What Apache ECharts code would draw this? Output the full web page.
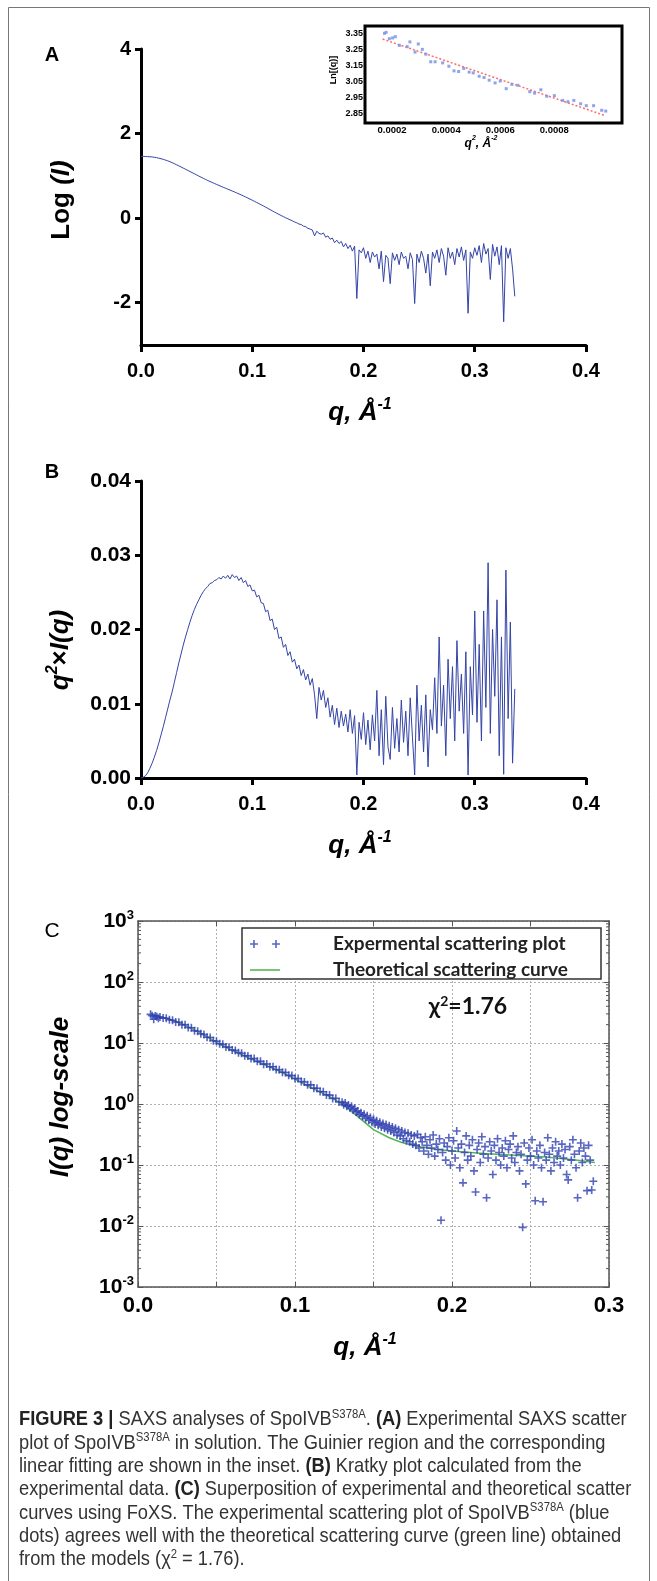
<!DOCTYPE html>
<html><head><meta charset="utf-8">
<script src="https://cdn.jsdelivr.net/npm/echarts@6/dist/echarts.min.js"></script>
<style>html,body{margin:0;padding:0;background:#fff;}#c{width:657px;height:1581px;}</style>
</head><body><div id="c"></div>
<script>
// ---------- DATA ----------
const qGrid = [0,0.002,0.004,0.006,0.008,0.01,0.012,0.014,0.016,0.018,
0.02,0.022,0.024,0.026,0.028,0.03,0.032,0.034,0.036,0.038,
0.04,0.042,0.044,0.046,0.048,0.05,0.052,0.054,0.056,0.058,
0.06,0.062,0.064,0.066,0.068,0.07,0.072,0.074,0.076,0.078,
0.08,0.082,0.084,0.086,0.088,0.09,0.092,0.094,0.096,0.098,
0.1,0.102,0.104,0.106,0.108,0.11,0.112,0.114,0.116,0.118,
0.12,0.122,0.124,0.126,0.128,0.13,0.132,0.134,0.136,0.138,
0.14,0.142,0.144,0.146,0.148,0.15,0.152,0.154,0.156,0.158,
0.16,0.162,0.164,0.166,0.168,0.17,0.172,0.174,0.176,0.178,
0.18,0.182,0.184,0.186,0.188,0.19,0.192,0.194,0.196,0.198,
0.2,0.202,0.204,0.206,0.208,0.21,0.212,0.214,0.216,0.218,
0.22,0.222,0.224,0.226,0.228,0.23,0.232,0.234,0.236,0.238,
0.24,0.242,0.244,0.246,0.248,0.25,0.252,0.254,0.256,0.258,
0.26,0.262,0.264,0.266,0.268,0.27,0.272,0.274,0.276,0.278,
0.28,0.282,0.284,0.286,0.288,0.29,0.292,0.294,0.296,0.298,
0.3,0.302,0.304,0.306,0.308,0.31,0.312,0.314,0.316,0.318,
0.32,0.322,0.324,0.326,0.328,0.33,0.332,0.334,0.336];

// Panel A: Log(I)
const logIntensity = [1.46,1.46,1.458,1.455,1.452,1.447,1.44,1.43,1.418,1.405,
1.39,1.373,1.355,1.335,1.312,1.288,1.262,1.236,1.21,1.183,
1.156,1.13,1.103,1.076,1.05,1.022,0.995,0.968,0.942,0.917,
0.89,0.866,0.843,0.82,0.797,0.774,0.751,0.729,0.707,0.686,
0.664,0.642,0.62,0.597,0.574,0.55,0.526,0.501,0.476,0.45,
0.424,0.398,0.371,0.344,0.316,0.288,0.26,0.231,0.202,0.173,
0.144,0.116,0.089,0.062,0.036,0.01,-0.014,-0.04,-0.062,-0.09,
-0.11,-0.14,-0.15,-0.19,-0.2,-0.24,-0.26,-0.28,-0.42,-0.31,
-0.36,-0.38,-0.35,-0.45,-0.42,-0.5,-0.47,-0.58,-0.52,-0.6,
-0.55,-0.68,-0.6,-0.72,-0.64,-0.78,-0.66,-1.9,-0.75,-0.82,
-0.7,-0.95,-0.78,-1.05,-0.8,-0.92,-0.85,-1.2,-0.78,-1.5,
-0.88,-0.95,-1.55,-0.82,-1.0,-0.85,-1.1,-0.8,-0.95,-0.9,
-1.2,-0.82,-0.98,-2.02,-0.85,-1.05,-0.78,-0.95,-1.3,-0.85,
-1.6,-0.8,-0.95,-0.75,-1.05,-0.72,-0.9,-1.35,-0.7,-0.95,
-0.8,-1.1,-0.72,-0.92,-0.68,-1.0,-0.75,-2.25,-0.8,-0.95,
-0.7,-0.88,-0.65,-1.05,-0.6,-0.85,-0.72,-1.45,-0.62,-0.9,
-0.68,-1.1,-0.65,-2.45,-0.7,-0.95,-0.72,-1.2,-1.85];

// Panel B: Kratky q^2 x I(q)
const kratkyValues = [0,0.0001,0.0003,0.0007,0.0013,0.002,0.0028,0.0037,0.0047,0.0058,
0.0069,0.0081,0.0093,0.0105,0.0116,0.0129,0.0142,0.0155,0.0167,0.0179,
0.019,0.02,0.021,0.0219,0.0227,0.0234,0.024,0.0246,0.0251,0.0255,
0.0258,0.0262,0.0263,0.0266,0.0267,0.027,0.0268,0.0272,0.0269,0.0273,
0.0268,0.0274,0.027,0.0272,0.0266,0.027,0.0263,0.0266,0.0258,0.026,
0.0252,0.0253,0.0244,0.0246,0.0236,0.0235,0.0224,0.0226,0.0212,0.0214,
0.02,0.0203,0.0188,0.019,0.0176,0.018,0.0165,0.017,0.0156,0.016,
0.0147,0.0152,0.0138,0.0146,0.0132,0.014,0.0125,0.0134,0.0112,0.008,
0.0122,0.0105,0.0118,0.0095,0.0108,0.0082,0.0098,0.0072,0.0094,0.0068,
0.009,0.007,0.0086,0.0062,0.0092,0.006,0.0084,0.0004,0.0075,0.0052,
0.0088,0.0045,0.0078,0.0038,0.0085,0.005,0.0118,0.003,0.0092,0.0018,
0.011,0.0042,0.0025,0.0095,0.004,0.008,0.0035,0.0105,0.0048,0.009,
0.003,0.0108,0.0055,0.0004,0.0125,0.005,0.0098,0.0035,0.0112,0.0015,
0.0092,0.0065,0.0135,0.006,0.019,0.007,0.0125,0.003,0.016,0.008,
0.015,0.005,0.0185,0.009,0.014,0.006,0.017,0.0004,0.015,0.0085,
0.0225,0.0075,0.018,0.005,0.0225,0.0095,0.029,0.006,0.02,0.011,
0.024,0.003,0.019,0.0005,0.028,0.008,0.021,0.002,0.012];

// Inset: Guinier region
const guinierQ2 = [0.000172,0.000178,0.00019,0.000202,0.000212,0.000227,0.000256,0.000266,0.000285,0.000297,
0.000312,0.000325,0.000343,0.000359,0.000387,0.00041,0.000429,0.000446,0.000465,0.000485,
0.0005,0.000522,0.00054,0.000559,0.000581,0.0006,0.000622,0.000643,0.000665,0.000709,
0.000727,0.00075,0.000772,0.0008,0.000831,0.00085,0.000872,0.000897,0.000918,0.000945,0.000975,0.00099];
const guinierLnI = [3.354,3.36,3.32,3.325,3.333,3.278,3.27,3.30,3.236,3.287,
3.253,3.223,3.175,3.175,3.168,3.147,3.118,3.114,3.133,3.11,
3.105,3.084,3.076,3.059,3.042,3.054,3.006,3.033,3.027,2.987,
2.978,2.999,2.958,2.962,2.932,2.924,2.932,2.911,2.899,2.899,2.87,2.865];
const guinierFitQ2 = [0.000165, 0.00099];
const guinierFitLnI = [3.318, 2.835];

// Panel C: experimental scatter (q, I)
const foxsExpQ = [0.008,0.009,0.01,0.011,0.012,0.013,0.014,
0.016,0.018,0.02,0.022,0.024,0.026,0.028,0.03,0.032,0.034,
0.036,0.038,0.04,0.042,0.044,0.046,0.048,0.05,0.052,0.054,
0.056,0.058,0.06,0.062,0.064,0.066,0.068,0.07,0.072,0.074,
0.076,0.078,0.08,0.082,0.084,0.086,0.088,0.09,0.092,0.094,
0.096,0.098,0.1,0.102,0.104,0.106,0.108,0.11,0.112,0.114,
0.116,0.118,0.12,0.122,0.124,0.126,0.128,0.13,
0.131,0.132,0.133,0.134,0.135,0.136,0.137,0.138,0.139,0.14,
0.141,0.142,0.143,0.144,0.145,0.146,0.147,0.148,0.149,0.15,
0.151,0.152,0.153,0.154,0.155,0.156,0.157,0.158,0.159,0.16,
0.161,0.162,0.163,0.164,0.165,0.166,0.167,0.168,0.169,0.17,
0.171,0.172,0.173,0.174,0.175,0.176,0.177,0.178,0.179,0.18,
0.181,0.182,0.183,0.184,0.185,0.186,0.187,0.188,0.189,0.19,
0.191,0.192,0.193,0.194,0.195,0.196,0.197,0.198,0.199,0.2,
0.201,0.202,0.203,0.204,0.205,0.206,0.207,0.208,0.209,0.21,
0.211,0.212,0.213,0.214,0.215,0.216,0.217,0.218,0.219,0.22,
0.221,0.222,0.223,0.224,0.225,0.226,0.227,0.228,0.229,0.23,
0.231,0.232,0.233,0.234,0.235,0.236,0.237,0.238,0.239,0.24,
0.241,0.242,0.243,0.244,0.245,0.246,0.247,0.248,0.249,0.25,
0.251,0.252,0.253,0.254,0.255,0.256,0.257,0.258,0.259,0.26,
0.261,0.262,0.263,0.264,0.265,0.266,0.267,0.268,0.269,0.27,
0.271,0.272,0.273,0.274,0.275,0.276,0.277,0.278,0.279,0.28,
0.281,0.282,0.283,0.284,0.285,0.286,0.287,0.288,0.289,0.29];
const foxsExpI = [29.5,28.0,24.5,27.8,27.0,25.5,26.6,
25.8,25.4,24.0,23.6,22.1,21.9,20.0,19.9,18.0,17.8,
15.9,15.6,14.2,13.8,12.4,12.3,10.9,10.7,9.7,9.5,
8.6,8.5,7.7,7.55,6.95,6.8,6.2,6.15,5.55,5.55,
5.0,5.0,4.5,4.52,4.07,4.08,3.67,3.64,3.31,3.28,
2.95,2.92,2.62,2.61,2.34,2.30,2.06,2.06,1.82,1.81,
1.60,1.59,1.41,1.40,1.23,1.24,1.08,1.07,
0.97,1.04,0.92,0.96,0.86,0.92,0.80,0.85,0.74,0.77,
0.67,0.72,0.63,0.68,0.58,0.64,0.54,0.60,0.50,0.56,
0.47,0.53,0.45,0.50,0.42,0.48,0.40,0.46,0.38,0.44,
0.36,0.42,0.34,0.40,0.31,0.38,0.30,0.36,0.27,0.34,
0.25,0.33,0.24,0.31,0.22,0.30,0.21,0.32,0.19,0.28,
0.24,0.17,0.29,0.21,0.15,0.26,0.19,0.31,0.14,0.22,
0.18,0.27,0.0124,0.16,0.23,0.12,0.20,0.28,0.10,0.17,
0.25,0.13,0.36,0.19,0.09,0.22,0.051,0.16,0.30,0.12,
0.21,0.14,0.26,0.08,0.036,0.18,0.23,0.11,0.29,0.15,
0.20,0.029,0.13,0.24,0.17,0.07,0.21,0.12,0.27,0.16,
0.10,0.19,0.14,0.25,0.09,0.18,0.22,0.13,0.30,0.11,
0.16,0.20,0.08,0.15,0.0095,0.23,0.049,0.12,0.19,0.14,
0.26,0.10,0.026,0.17,0.13,0.21,0.09,0.025,0.16,0.12,
0.28,0.15,0.08,0.19,0.11,0.24,0.14,0.17,0.10,0.22,
0.13,0.18,0.07,0.057,0.20,0.12,0.26,0.15,0.09,0.029,
0.17,0.23,0.11,0.19,0.14,0.038,0.21,0.12,0.039,0.054];

// Panel C: theoretical FoXS curve
const foxsTheoQ = [0.0083,0.02,0.03,0.04,0.05,0.06,0.07,0.08,0.09,0.10,0.11,0.12,0.13,0.14,0.15,0.16,0.168,0.175,0.18,0.19,0.20,0.22,0.24,0.26,0.28,0.291];
const foxsTheoI = [29.9,24.5,19.5,14.5,10.2,7.6,5.75,4.47,3.47,2.55,1.86,1.41,1.0,0.62,0.38,0.28,0.234,0.21,0.20,0.182,0.17,0.155,0.145,0.135,0.12,0.11];

// Tick labels
const panelAYTicks = [-2, 0, 2, 4];
const insetXTicks = [0.0002, 0.0004, 0.0006, 0.0008];
const insetYTicks = [2.85, 2.95, 3.05, 3.15, 3.25, 3.35];
const panelCXLabels = [0, 0.1, 0.2, 0.3];
const logMinorMultipliers = [2, 3, 4, 5, 6, 7, 8, 9];
const seriesNames = ['Expermental scattering plot', 'Theoretical scattering curve'];

// ---------- CHART ----------
const pairs = (xs, ys) => xs.map((x, i) => [x, ys[i]]);
const FONT = "'Liberation Sans', Arial, Helvetica, sans-serif";
const BLUE = '#3444a6';
const chart = echarts.init(document.getElementById('c'), null, {renderer: 'canvas', width: 657, height: 1581});

const blackAxis = {show: true, onZero: false, lineStyle: {color: '#000', width: 3}};
const blackTick = (len) => ({show: true, length: len, lineStyle: {color: '#000', width: 3}});
const lbl = (size, extra) => Object.assign({fontFamily: FONT, fontWeight: 'bold', fontSize: size, color: '#000'}, extra || {});
const grayAxis = {show: true, onZero: false, lineStyle: {color: '#555', width: 1.5}};
const grayTick = {show: true, inside: true, length: 5, lineStyle: {color: '#555', width: 1}};
const dotted = {show: true, lineStyle: {type: [2, 2], color: '#b0b0b0', width: 1}};

const cMinor = [];
for (let e = -3; e < 3; e++) logMinorMultipliers.forEach(m => cMinor.push([0, m * Math.pow(10, e)]));

const titleRich = (size) => ({
  b: {fontFamily: FONT, fontWeight: 'bold', fontSize: size, lineHeight: size + 6, fill: '#000', color: '#000'},
  bi: {fontFamily: FONT, fontWeight: 'bold', fontStyle: 'italic', fontSize: size, lineHeight: size + 6, fill: '#000', color: '#000'},
  sup: {fontFamily: FONT, fontWeight: 'bold', fontStyle: 'italic', fontSize: Math.round(size * 0.6), lineHeight: Math.round(size * 0.6), verticalAlign: 'top', fill: '#000', color: '#000'}
});
function titleText(x, y, text, size, rotate) {
  return {type: 'text', x: x, y: y, rotation: rotate ? Math.PI / 2 : 0, z: 10,
    style: {text: text, rich: titleRich(size), align: 'center', verticalAlign: 'middle', textAlign: 'center', textVerticalAlign: 'middle'}};
}

const capRich = {
  b: {fontFamily: FONT, fontWeight: 'bold', fontSize: 21, lineHeight: 23.3, fill: '#222', color: '#222'},
  sup: {fontFamily: FONT, fontSize: 13, lineHeight: 13, verticalAlign: 'top', fill: '#333', color: '#333'}
};
const captionLines = [
  '{b|FIGURE 3 |} SAXS analyses of SpoIVB{sup|S378A}. {b|(A)} Experimental SAXS scatter',
  'plot of SpoIVB{sup|S378A} in solution. The Guinier region and the corresponding',
  'linear fitting are shown in the inset. {b|(B)} Kratky plot calculated from the',
  'experimental data. {b|(C)} Superposition of experimental and theoretical scatter',
  'curves using FoXS. The experimental scattering plot of SpoIVB{sup|S378A} (blue',
  'dots) agrees well with the theoretical scattering curve (green line) obtained',
  'from the models (\u03c7{sup|2} = 1.76).'
];

const option = {
  animation: false,
  backgroundColor: '#fff',
  grid: [
    {left: 141, top: 49, width: 445, height: 296, outerBoundsMode: 'none'},
    {left: 365, top: 26, width: 257, height: 97, show: true, borderColor: '#000', borderWidth: 3, backgroundColor: '#fff', outerBoundsMode: 'none'},
    {left: 141, top: 481, width: 445, height: 297, outerBoundsMode: 'none'},
    {left: 138, top: 921, width: 471, height: 366, outerBoundsMode: 'none'}
  ],
  xAxis: [
    {gridIndex: 0, type: 'value', min: 0, max: 0.4, interval: 0.1, axisLine: blackAxis, axisTick: blackTick(7),
     axisLabel: lbl(20, {margin: 16, formatter: v => v.toFixed(1)}), splitLine: {show: false}},
    {gridIndex: 1, type: 'value', min: 0.0001, max: 0.00105, axisLine: {show: false}, axisTick: {show: false},
     axisLabel: lbl(9.5, {margin: 2, customValues: insetXTicks, formatter: v => v.toFixed(4)}), splitLine: {show: false}},
    {gridIndex: 2, type: 'value', min: 0, max: 0.4, interval: 0.1, axisLine: blackAxis, axisTick: blackTick(7),
     axisLabel: lbl(20, {margin: 16, formatter: v => v.toFixed(1)}), splitLine: {show: false}},
    {gridIndex: 3, type: 'value', min: 0, max: 0.3, interval: 0.05, position: 'bottom', axisLine: grayAxis, axisTick: grayTick,
     axisLabel: lbl(22, {margin: 8, customValues: panelCXLabels, formatter: v => v.toFixed(1)}), splitLine: dotted},
    {gridIndex: 3, type: 'value', min: 0, max: 0.3, interval: 0.05, position: 'top', axisLine: grayAxis, axisTick: grayTick,
     axisLabel: {show: false}, splitLine: {show: false}}
  ],
  yAxis: [
    {gridIndex: 0, type: 'value', min: -3, max: 4, axisLine: blackAxis,
     axisTick: Object.assign(blackTick(6), {customValues: panelAYTicks}),
     axisLabel: lbl(20, {margin: 10, customValues: panelAYTicks, formatter: v => String(v)}), splitLine: {show: false}},
    {gridIndex: 1, type: 'value', min: 2.79, max: 3.4, axisLine: {show: false}, axisTick: {show: false},
     axisLabel: lbl(9, {margin: 2, customValues: insetYTicks, formatter: v => v.toFixed(2)}), splitLine: {show: false}},
    {gridIndex: 2, type: 'value', min: 0, max: 0.04, interval: 0.01, axisLine: blackAxis, axisTick: blackTick(6),
     axisLabel: lbl(21, {margin: 10, formatter: v => v.toFixed(2)}), splitLine: {show: false}},
    {gridIndex: 3, type: 'log', logBase: 10, min: 0.001, max: 1000, position: 'left', axisLine: grayAxis, axisTick: grayTick,
     axisLabel: {margin: 4, formatter: v => '{b|10}{s|' + Math.round(Math.log10(v)) + '}',
       rich: {b: {fontFamily: FONT, fontWeight: 'bold', fontSize: 21, color: '#000', lineHeight: 24},
              s: {fontFamily: FONT, fontWeight: 'bold', fontSize: 13, color: '#000', lineHeight: 13, verticalAlign: 'top'}}},
     splitLine: dotted},
    {gridIndex: 3, type: 'log', logBase: 10, min: 0.001, max: 1000, position: 'right', axisLine: grayAxis, axisTick: grayTick,
     axisLabel: {show: false}, splitLine: {show: false}}
  ],
  legend: {
    left: 245, top: 929, orient: 'vertical', itemGap: 6, itemWidth: 30, itemHeight: 8, selectedMode: false, z: 6,
    data: [
      {name: seriesNames[0], icon: 'path://M3.2,0H4.8V3.2H8V4.8H4.8V8H3.2V4.8H0V3.2H3.2Z M25.2,0H26.8V3.2H30V4.8H26.8V8H25.2V4.8H22V3.2H25.2Z'},
      {name: seriesNames[1], icon: 'path://M0,0H30V1.6H0Z'}
    ],
    textStyle: {fontFamily: 'Lato, ' + FONT, fontWeight: 'bold', fontSize: 19, color: '#222', lineHeight: 20, padding: [0, 0, 0, 48]}
  },
  series: [
    {type: 'line', xAxisIndex: 0, yAxisIndex: 0, data: pairs(qGrid, logIntensity), showSymbol: false,
     lineStyle: {color: BLUE, width: 1}, itemStyle: {color: BLUE}, z: 2},
    {type: 'line', xAxisIndex: 1, yAxisIndex: 1, data: pairs(guinierFitQ2, guinierFitLnI), showSymbol: false,
     lineStyle: {color: '#ff6b6b', width: 1.5, type: [2, 2]}, z: 2},
    {type: 'scatter', xAxisIndex: 1, yAxisIndex: 1, data: pairs(guinierQ2, guinierLnI), symbol: 'rect', symbolSize: 3,
     itemStyle: {color: '#7a94e8', opacity: 0.85}, z: 3},
    {type: 'line', xAxisIndex: 2, yAxisIndex: 2, data: pairs(qGrid, kratkyValues), showSymbol: false,
     lineStyle: {color: BLUE, width: 1}, itemStyle: {color: BLUE}, z: 2},
    {name: seriesNames[1], type: 'line', xAxisIndex: 3, yAxisIndex: 3, data: pairs(foxsTheoQ, foxsTheoI), showSymbol: false,
     color: '#55b555', lineStyle: {color: '#55b555', width: 1.5}, itemStyle: {color: '#55b555'}, z: 2},
    {name: seriesNames[0], type: 'scatter', xAxisIndex: 3, yAxisIndex: 3, data: pairs(foxsExpQ, foxsExpI),
     symbol: 'path://M4,0H6V4H10V6H6V10H4V6H0V4H4Z', symbolSize: 8, itemStyle: {color: '#3040b0'}, z: 3},
    {type: 'custom', xAxisIndex: 3, yAxisIndex: 3, data: cMinor, silent: true, z: 4,
     renderItem: (params, api) => {
       const v = api.value(1);
       const l = api.coord([0, v]); const r = api.coord([0.3, v]);
       return {type: 'group', children: [
         {type: 'line', shape: {x1: l[0], y1: l[1], x2: l[0] + 3, y2: l[1]}, style: {stroke: '#555', lineWidth: 1}},
         {type: 'line', shape: {x1: r[0] - 3, y1: r[1], x2: r[0], y2: r[1]}, style: {stroke: '#555', lineWidth: 1}}
       ]};
     }}
  ],
  graphic: [
    {type: 'rect', shape: {x: 8.5, y: 7.5, width: 641, height: 1600}, style: {fill: 'none', stroke: '#777', lineWidth: 1}, z: 0, silent: true},
    {type: 'text', x: 52, y: 55, style: {text: 'A', fontFamily: FONT, fontWeight: 'bold', fontSize: 20, fill: '#000', align: 'center', verticalAlign: 'middle', textAlign: 'center', textVerticalAlign: 'middle'}},
    {type: 'text', x: 52, y: 472, style: {text: 'B', fontFamily: FONT, fontWeight: 'bold', fontSize: 20, fill: '#000', align: 'center', verticalAlign: 'middle', textAlign: 'center', textVerticalAlign: 'middle'}},
    {type: 'text', x: 52, y: 931, style: {text: 'C', fontFamily: FONT, fontSize: 21, fill: '#000', align: 'center', verticalAlign: 'middle', textAlign: 'center', textVerticalAlign: 'middle'}},
    titleText(62, 200, '{b|Log }{bi|(I)}', 26, true),
    titleText(360, 413, '{bi|q, \u00c5}{sup|-1}', 26, false),
    titleText(61, 650, '{bi|q}{sup|2}{b|\u00d7}{bi|I(q)}', 26, true),
    titleText(360, 846, '{bi|q, \u00c5}{sup|-1}', 26, false),
    titleText(61, 1097, '{bi|I(q) log-scale}', 26, true),
    titleText(365, 1348, '{bi|q, \u00c5}{sup|-1}', 26, false),
    titleText(334, 70, '{b|Ln[(q)]}', 9, true),
    titleText(481, 144, '{bi|q}{sup|2}{bi|, \u00c5}{sup|-2}', 12, false),
    {type: 'rect', shape: {x: 242, y: 928, width: 359, height: 51}, style: {fill: '#fff', stroke: '#333', lineWidth: 1.5}, z: 3, silent: true},
    {type: 'text', x: 468, y: 1007, z: 5, style: {text: '{t|\u03c7}{s|2}{t|=1.76}', align: 'center', verticalAlign: 'middle', textAlign: 'center', textVerticalAlign: 'middle',
      rich: {t: {fontFamily: 'Lato, ' + FONT, fontWeight: 'bold', fontSize: 23, lineHeight: 26, fill: '#111', color: '#111'},
             s: {fontFamily: 'Lato, ' + FONT, fontWeight: 'bold', fontSize: 14, lineHeight: 14, verticalAlign: 'top', fill: '#111', color: '#111'}}}},
    {type: 'text', x: 19, y: 1408, scaleX: 0.87, scaleY: 1, z: 5, style: {text: captionLines.join('\n'), fontFamily: FONT, fontSize: 21, lineHeight: 23.3, fill: '#333',
      rich: capRich, align: 'left', verticalAlign: 'top', textAlign: 'left', textVerticalAlign: 'top'}}
  ]
};
chart.setOption(option);
</script>
</body></html>
